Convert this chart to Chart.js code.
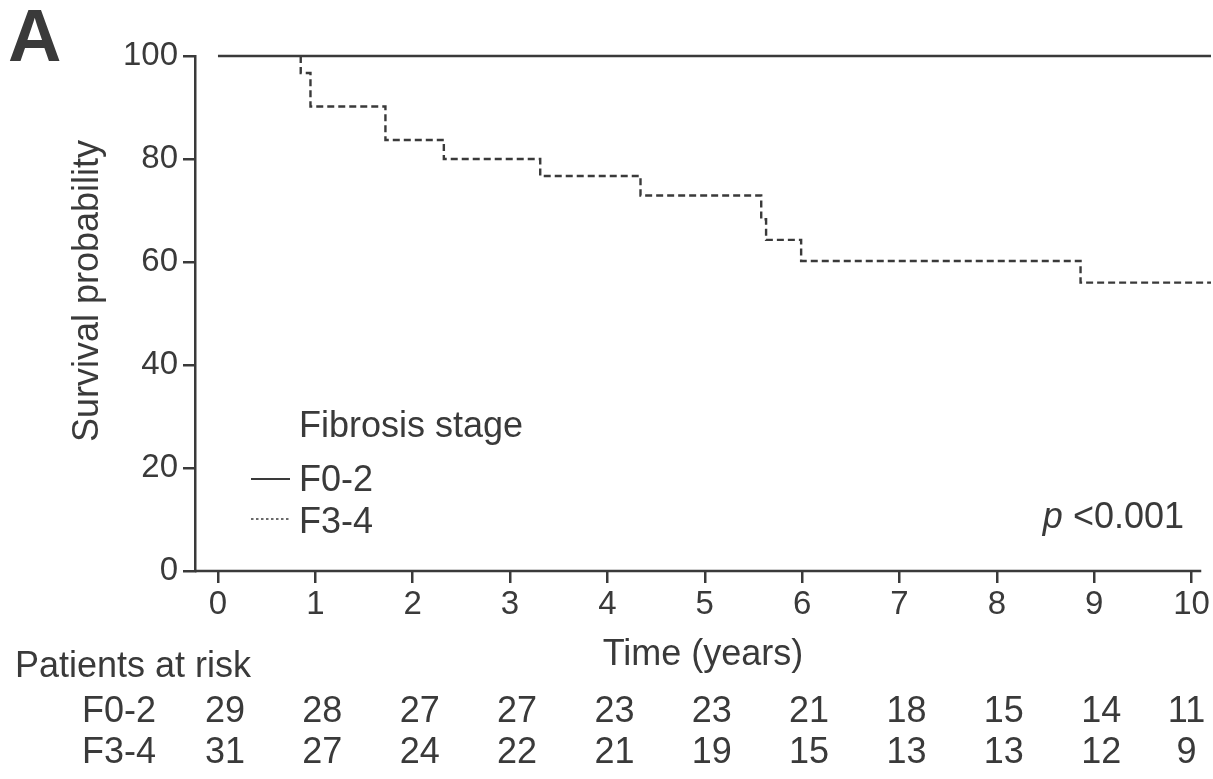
<!DOCTYPE html>
<html>
<head>
<meta charset="utf-8">
<script src="https://cdn.jsdelivr.net/npm/chart.js@4.4.1/dist/chart.umd.min.js"></script>
<style>
  html, body { margin: 0; padding: 0; background: #fff; }
  #wrap { width: 1213px; height: 779px; position: relative; }
</style>
</head>
<body>
<div id="wrap"><canvas id="chart"></canvas></div>
<script>
// Kaplan-Meier survival by fibrosis stage (time in years, survival in %)
const timeF02 = [0, 10.2];
const survF02 = [100, 100];
const timeF34 = [0, 0.85, 0.85, 0.95, 1.72, 2.32, 3.31, 4.34, 5.58, 5.63, 5.99, 8.86, 10.2];
const survF34 = [100, 100, 96.7, 90.2, 83.7, 80.0, 76.7, 72.9, 68.3, 64.3, 60.2, 56.0, 56.0];

const xTicks = [0, 1, 2, 3, 4, 5, 6, 7, 8, 9, 10];
const yTicks = [0, 20, 40, 60, 80, 100];

// patients at risk at each whole year
const riskGroups = ['F0-2', 'F3-4'];
const riskF02 = [29, 28, 27, 27, 23, 23, 21, 18, 15, 14, 11];
const riskF34 = [31, 27, 24, 22, 21, 19, 15, 13, 13, 12, 9];

const INK = '#3a3a3a';
const FONT = "'Liberation Sans', Arial, Helvetica, sans-serif";
const X_MIN = -0.236, X_AXIS_END = 10.1;

const toPoints = (xs, ys) => xs.map((x, i) => ({ x: x, y: ys[i] }));

const extras = {
    id: 'extras',
    afterDraw(chart) {
        const ctx = chart.ctx;
        const xs = chart.scales.x;
        const area = chart.chartArea;
        ctx.save();
        ctx.fillStyle = INK;
        ctx.strokeStyle = INK;

        // x axis line stops a bit short of the plot edge
        ctx.lineWidth = 2.5;
        ctx.beginPath();
        ctx.moveTo(xs.getPixelForValue(X_MIN), area.bottom);
        ctx.lineTo(xs.getPixelForValue(X_AXIS_END), area.bottom);
        ctx.stroke();

        // panel letter
        ctx.font = 'bold 74px ' + FONT;
        ctx.textAlign = 'left';
        ctx.textBaseline = 'alphabetic';
        ctx.fillText('A', 8, 61);

        // axis titles
        ctx.font = '36px ' + FONT;
        ctx.textAlign = 'center';
        ctx.fillText('Time (years)', (area.left + area.right) / 2, 665);
        ctx.save();
        ctx.translate(98, 291);
        ctx.rotate(-Math.PI / 2);
        ctx.fillText('Survival probability', 0, 0);
        ctx.restore();

        // legend
        ctx.textAlign = 'left';
        ctx.fillText('Fibrosis stage', 299, 437);
        ctx.fillText('F0-2', 299, 491);
        ctx.fillText('F3-4', 299, 533);
        ctx.lineWidth = 2;
        ctx.beginPath();
        ctx.moveTo(251, 479);
        ctx.lineTo(290, 479);
        ctx.stroke();
        ctx.lineWidth = 1.6;
        ctx.setLineDash([2.5, 2.5]);
        ctx.beginPath();
        ctx.moveTo(251, 519);
        ctx.lineTo(290, 519);
        ctx.stroke();
        ctx.setLineDash([]);

        // p value
        ctx.textAlign = 'right';
        const rest = ' <0.001';
        ctx.fillText(rest, 1184, 528);
        const restW = ctx.measureText(rest).width;
        ctx.font = 'italic 36px ' + FONT;
        ctx.fillText('p', 1184 - restW, 528);

        // risk table, one column per year tick (last column pulled in to fit)
        ctx.font = '36px ' + FONT;
        ctx.textAlign = 'left';
        ctx.fillText('Patients at risk', 15, 677);
        const rows = [riskF02, riskF34];
        const baselines = [722, 763];
        rows.forEach((row, r) => {
            ctx.textAlign = 'left';
            ctx.fillText(riskGroups[r], 82, baselines[r]);
            ctx.textAlign = 'center';
            row.forEach((n, i) => {
                const shift = i === row.length - 1 ? -5 : 7;
                ctx.fillText(String(n), xs.getPixelForValue(xTicks[i]) + shift, baselines[r]);
            });
        });
        ctx.restore();
    }
};

new Chart(document.getElementById('chart'), {
    type: 'line',
    data: {
        datasets: [
            {
                label: 'F0-2',
                data: toPoints(timeF02, survF02),
                borderColor: INK,
                borderWidth: 2.6,
                stepped: true,
                clip: false,
                pointRadius: 0,
                order: 0
            },
            {
                label: 'F3-4',
                data: toPoints(timeF34, survF34),
                borderColor: INK,
                borderWidth: 2.4,
                borderDash: [7, 4],
                stepped: true,
                clip: false,
                pointRadius: 0,
                order: 1,
                // the stretch at 100% lies under the F0-2 line, leave it to that one
                segment: {
                    borderColor: c => (c.p0.parsed.y === 100 && c.p1.parsed.y === 100) ? 'rgba(0,0,0,0)' : INK
                }
            }
        ]
    },
    options: {
        responsive: true,
        maintainAspectRatio: false,
        animation: false,
        layout: { padding: { top: 56, right: 2, left: 0, bottom: 0 } },
        plugins: { legend: { display: false }, tooltip: { enabled: false } },
        scales: {
            x: {
                type: 'linear',
                min: X_MIN,
                max: 10.2,
                afterFit: s => { s.height = 208; },
                afterBuildTicks: s => { s.ticks = xTicks.map(v => ({ value: v })); },
                grid: { drawOnChartArea: false, drawTicks: true, tickLength: 12, color: INK, lineWidth: 2.5 },
                border: { display: false },
                ticks: { color: INK, font: { family: FONT, size: 33 }, padding: 2, maxRotation: 0, autoSkip: false }
            },
            y: {
                type: 'linear',
                min: 0,
                max: 100,
                afterFit: s => { s.width = 195; },
                afterBuildTicks: s => { s.ticks = yTicks.map(v => ({ value: v })); },
                grid: { drawOnChartArea: false, drawTicks: true, tickLength: 12, color: INK, lineWidth: 2.5 },
                border: { display: true, color: INK, width: 2.5 },
                ticks: { color: INK, font: { family: FONT, size: 33 }, padding: 5 }
            }
        }
    },
    plugins: [extras]
});
</script>
</body>
</html>
